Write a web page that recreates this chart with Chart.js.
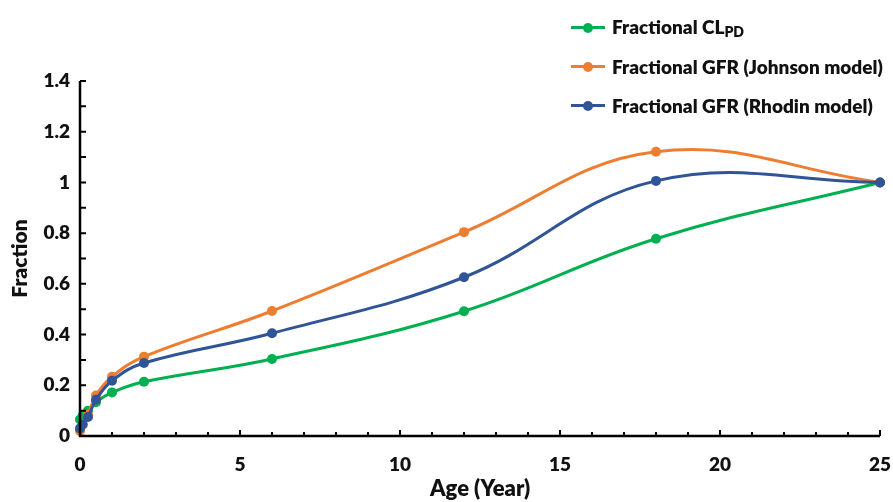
<!DOCTYPE html>
<html>
<head>
<meta charset="utf-8">
<script src="https://cdn.jsdelivr.net/npm/chart.js@4.4.1/dist/chart.umd.min.js"></script>
<style>
  html, body { margin: 0; padding: 0; background: #fff; overflow: hidden; }
  #wrap { position: relative; width: 893px; height: 502px; }
  #legend { position: absolute; left: 571px; top: 8px; font-family: Lato, sans-serif; font-weight: 800; font-size: 19px; color: #111; }
  .item { display: flex; align-items: center; height: 39px; white-space: nowrap; }
  .swatch { position: relative; width: 34px; height: 12px; margin-right: 7px; }
  .swatch .ln { position: absolute; left: 0; right: 0; top: 4.5px; height: 3px; }
  .swatch .dot { position: absolute; left: 12px; top: 1px; width: 10px; height: 10px; border-radius: 50%; }
  sub { font-size: 14px; vertical-align: -3px; }
</style>
</head>
<body>
<div id="wrap">
  <canvas id="c" width="893" height="502"></canvas>
  <div id="legend"></div>
</div>
<script>
// Age in years at which each fraction is reported
const ages = [0, 0.083, 0.25, 0.5, 1, 2, 6, 12, 18, 25];

// Fraction of adult value
const clPD = [0.065, 0.08, 0.1, 0.133, 0.172, 0.214, 0.304, 0.492, 0.778, 1.0];
const gfrJohnson = [0.02, 0.045, 0.085, 0.16, 0.234, 0.313, 0.493, 0.804, 1.121, 1.0];
const gfrRhodin = [0.03, 0.045, 0.075, 0.143, 0.218, 0.288, 0.405, 0.626, 1.006, 1.0];

const xTicks = [0, 5, 10, 15, 20, 25];
const yTicks = [0, 0.2, 0.4, 0.6, 0.8, 1, 1.2, 1.4];

const series = [
  { label: 'Fractional CL<sub>PD</sub>', data: clPD, color: '#00B050', order: 2 },
  { label: 'Fractional GFR (Johnson model)', data: gfrJohnson, color: '#ED7D31', order: 1 },
  { label: 'Fractional GFR (Rhodin model)', data: gfrRhodin, color: '#2F5597', order: 0 }
];

const FONT = 'Lato, sans-serif';
const TEXT = '#111';

// Keep the plot area at a fixed place on the canvas
const areaPlugin = {
  id: 'fixedArea',
  afterLayout(chart) {
    const { x, y } = chart.scales;
    const a = chart.chartArea;
    a.left = 80; a.right = 880; a.top = 81; a.bottom = 436;
    a.width = a.right - a.left; a.height = a.bottom - a.top;
    x.left = a.left; x.right = a.right; x.width = a.width;
    y.top = a.top; y.bottom = a.bottom; y.height = a.height;
    x.configure(); y.configure();
  }
};

// Axis lines with inward major/minor ticks, drawn from the scales
const axisPlugin = {
  id: 'axisTicks',
  afterDatasetsDraw(chart) {
    const { ctx, chartArea: a, scales: { x, y } } = chart;
    ctx.save();
    ctx.strokeStyle = '#000';
    ctx.lineWidth = 2.5;
    ctx.beginPath();
    ctx.moveTo(a.left, a.top);
    ctx.lineTo(a.left, a.bottom);
    ctx.lineTo(a.right, a.bottom);
    ctx.stroke();
    ctx.lineWidth = 2;
    ctx.beginPath();
    for (let v = 0; v <= 25; v += 1) {
      const px = x.getPixelForValue(v);
      const len = v % 5 === 0 ? 6 : 4;
      ctx.moveTo(px, a.bottom);
      ctx.lineTo(px, a.bottom - len);
    }
    for (let i = 0; i <= 14; i++) {
      const py = y.getPixelForValue(i / 10);
      ctx.moveTo(a.left, py);
      ctx.lineTo(a.left + 6, py);
    }
    ctx.stroke();
    ctx.restore();
  }
};

new Chart(document.getElementById('c'), {
  type: 'line',
  data: {
    labels: ages,
    datasets: series.map(s => ({
      label: s.label,
      data: ages.map((a, i) => ({ x: a, y: s.data[i] })),
      borderColor: s.color,
      backgroundColor: s.color,
      pointBackgroundColor: s.color,
      pointBorderColor: s.color,
      borderWidth: 3,
      pointRadius: 5,
      pointBorderWidth: 0,
      tension: 0.4,
      clip: false,
      order: s.order
    }))
  },
  options: {
    responsive: false,
    animation: false,
    layout: { padding: { top: 81, right: 0, left: 0, bottom: 0 } },
    plugins: { legend: { display: false }, tooltip: { enabled: false } },
    scales: {
      x: {
        type: 'linear', min: 0, max: 25,
        afterBuildTicks: s => { s.ticks = xTicks.map(v => ({ value: v })); },
        grid: { display: false, drawTicks: false },
        border: { display: false },
        ticks: { color: TEXT, font: { family: FONT, size: 19, weight: 800 }, padding: 17, maxRotation: 0 },
        title: { display: true, text: 'Age (Year)', color: TEXT, font: { family: FONT, size: 22, weight: 800 }, padding: { top: 2, bottom: 0 } },
        afterFit: s => { s.height = 66; }
      },
      y: {
        min: 0, max: 1.4,
        afterBuildTicks: s => { s.ticks = yTicks.map(v => ({ value: v })); },
        grid: { display: false, drawTicks: false },
        border: { display: false },
        ticks: {
          color: TEXT, font: { family: FONT, size: 19, weight: 800 }, padding: 10,
          callback: v => String(Math.round(v * 10) / 10)
        },
        title: { display: true, text: 'Fraction', color: TEXT, font: { family: FONT, size: 21, weight: 800 }, padding: { top: 8, bottom: 4 } },
        afterFit: s => { s.width = 80; }
      }
    }
  },
  plugins: [areaPlugin, axisPlugin]
});

// Legend
const legend = document.getElementById('legend');
series.forEach(s => {
  const item = document.createElement('div');
  item.className = 'item';
  item.innerHTML = '<span class="swatch"><span class="ln" style="background:' + s.color +
    '"></span><span class="dot" style="background:' + s.color + '"></span></span><span>' + s.label + '</span>';
  legend.appendChild(item);
});
</script>
</body>
</html>
